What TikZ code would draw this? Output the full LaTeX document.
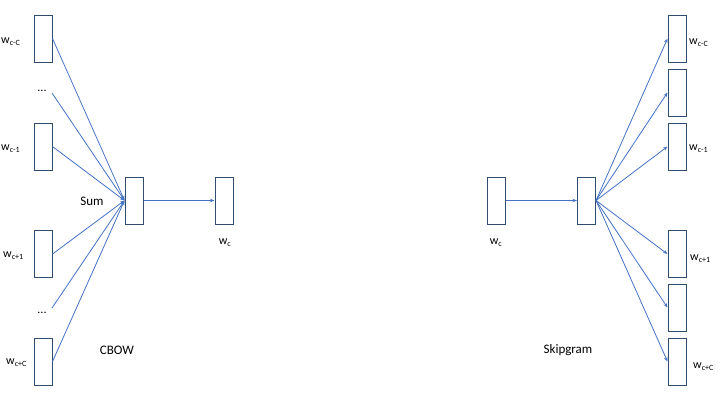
\documentclass[tikz,border=0pt]{standalone}
\usepackage{fontspec}
\setmainfont{Carlito}
\usetikzlibrary{arrows.meta}
\definecolor{boxc}{HTML}{2F4B6E}
\definecolor{linec}{HTML}{4472C4}
\begin{document}
\begin{tikzpicture}[x=1pt,y=-1pt,
  vec/.style={draw=boxc,line width=1pt,minimum width=18pt,minimum height=47pt,inner sep=0pt},
  conn/.style={draw=linec,line width=0.8pt},
  arr/.style={conn,-{Stealth[length=4.5pt,width=3.5pt]}},
  lbl/.style={font=\fontsize{12}{14}\selectfont,inner sep=0pt},
  ttl/.style={font=\fontsize{13}{15}\selectfont,inner sep=0pt}]
\useasboundingbox (0,0) rectangle (720,405);
% CBOW
\node[vec] (l1) at (43,38.5) {};
\node[vec] (l2) at (43,146.5) {};
\node[vec] (l3) at (43,254) {};
\node[vec] (l4) at (43,361.5) {};
\node[lbl] (d1) at (42,91) {...};
\node[lbl] (d2) at (42,313) {...};
\coordinate (d1e) at (52,93);
\coordinate (d2e) at (52,308);
\node[lbl,anchor=west] (t1) at (1,42) {w\textsubscript{c-C}};
\node[lbl,anchor=west] (t2) at (1,149) {w\textsubscript{c-1}};
\node[lbl,anchor=west] (t3) at (3,256) {w\textsubscript{c+1}};
\node[lbl,anchor=west] (t4) at (6,363) {w\textsubscript{c+C}};
\node[vec] (s1) at (134,200.5) {};
\node[vec] (o1) at (224,200.5) {};
\node[ttl] (sum) at (92,201) {Sum};
\node[lbl] (wc1) at (225,243) {w\textsubscript{c}};
\node[ttl] (cbow) at (117,350) {CBOW};
\coordinate (s1in) at (s1.west);
\draw[arr] (l1.east) -- (s1in);
\draw[arr] (d1e) -- (s1in);
\draw[arr] (l2.east) -- (s1in);
\draw[arr] (l3.east) -- (s1in);
\draw[arr] (d2e) -- (s1in);
\draw[arr] (l4.east) -- (s1in);
\draw[arr] (s1.east) -- (o1.west);
% Skipgram
\node[vec] (i2) at (496,200.5) {};
\node[vec] (s2) at (586.5,200.5) {};
\node[vec] (r1) at (677,38.5) {};
\node[vec] (r2) at (677,92.5) {};
\node[vec] (r3) at (677,146.5) {};
\node[vec] (r4) at (677,254) {};
\node[vec] (r5) at (677,307.5) {};
\node[vec] (r6) at (677,361.5) {};
\node[lbl,anchor=west] (u1) at (689,43) {w\textsubscript{c-C}};
\node[lbl,anchor=west] (u3) at (689,149) {w\textsubscript{c-1}};
\node[lbl,anchor=west] (u4) at (690,259) {w\textsubscript{c+1}};
\node[lbl,anchor=west] (u6) at (693,367) {w\textsubscript{c+C}};
\node[lbl] (wc2) at (496,243) {w\textsubscript{c}};
\node[ttl] (skip) at (568,350) {Skipgram};
\draw[arr] (i2.east) -- (s2.west);
\foreach \r in {r1,r2,r3,r4,r5,r6}
  \draw[arr] (s2.east) -- (\r.west);
\end{tikzpicture}
\end{document}
